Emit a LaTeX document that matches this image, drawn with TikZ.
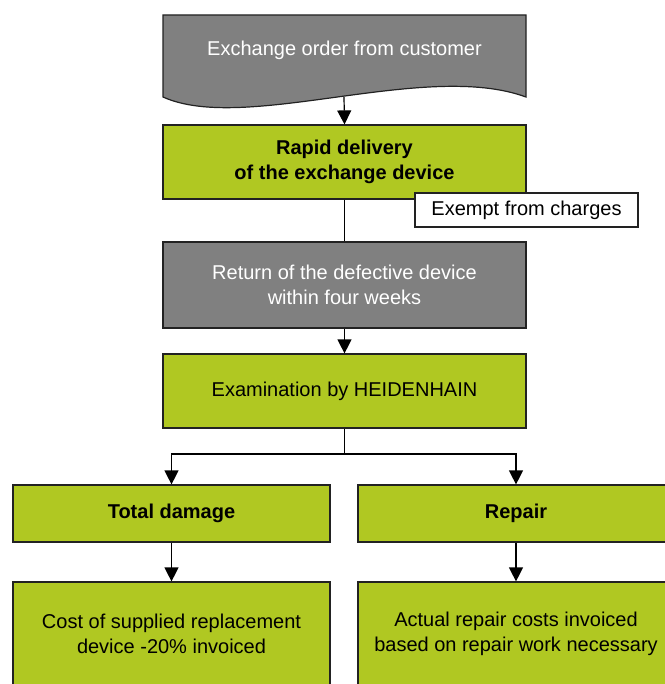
\documentclass[tikz,border=0pt]{standalone}
\usepackage{fontspec}
\setmainfont{Liberation Sans}
\usetikzlibrary{arrows.meta}
\definecolor{hgreen}{RGB}{176,200,34}
\definecolor{hgray}{RGB}{128,128,128}
\definecolor{hline}{RGB}{34,34,34}
\begin{document}
\begin{tikzpicture}[x=1bp,y=-1bp,
  box/.style={draw=hline, line width=1.2bp, rectangle, inner sep=0pt, align=center,
    font=\fontsize{20bp}{25bp}\selectfont},
  greenbox/.style={box, fill=hgreen, text=black},
  graybox/.style={box, fill=hgray, text=white},
  conn/.style={draw=black, line width=1.2bp},
  arr/.style={conn, -{Triangle[width=14bp,length=14bp]}}]
\useasboundingbox (0,0) rectangle (665,684);
\clip (0,0) rectangle (665,684);
% document shape
\path[draw=hline, line width=1.2bp, fill=hgray] (163,15) -- (526,15) -- (526,97)
  .. controls (425,60) and (245,134) .. (163,97) -- cycle;
\node[text=white, font=\fontsize{20bp}{25bp}\selectfont] (doc) at (344.5,50) {Exchange order from customer};
\coordinate (docb) at (344,97);
% boxes
\node[greenbox, minimum width=363bp, minimum height=74bp, font=\fontsize{20bp}{25bp}\selectfont\bfseries] (rapid) at (344.5,162) {Rapid delivery\\of the exchange device};
\node[box, fill=white, text=black, minimum width=223bp, minimum height=34bp] (exempt) at (526.5,210) {Exempt from charges};
\node[graybox, minimum width=363bp, minimum height=86bp] (ret) at (344.5,285) {Return of the defective device\\within four weeks};
\node[greenbox, minimum width=363bp, minimum height=74bp] (exam) at (344.5,391) {Examination by HEIDENHAIN};
\node[greenbox, minimum width=317bp, minimum height=57bp, font=\fontsize{20bp}{25bp}\selectfont\bfseries] (total) at (171.5,513.5) {Total damage};
\node[greenbox, minimum width=316bp, minimum height=57bp, font=\fontsize{20bp}{25bp}\selectfont\bfseries] (repair) at (516,513.5) {Repair};
\node[greenbox, minimum width=317bp, minimum height=104bp] (cost) at (171.5,634) {Cost of supplied replacement\\device -20\% invoiced};
\node[greenbox, minimum width=316bp, minimum height=104bp] (actual) at (516,634) {Actual repair costs invoiced\\based on repair work necessary};
% connectors
\draw[arr] (docb) -- (rapid.north);
\draw[conn] (rapid.south) -- (ret.north);
\draw[arr] (ret.south) -- (exam.north);
\coordinate (split) at (344.5,454);
\draw[conn] (exam.south) -- (split);
\draw[arr] (split) -| (total.north);
\draw[arr] (split) -| (repair.north);
\draw[arr] (total.south) -- (cost.north);
\draw[arr] (repair.south) -- (actual.north);
\end{tikzpicture}
\end{document}
